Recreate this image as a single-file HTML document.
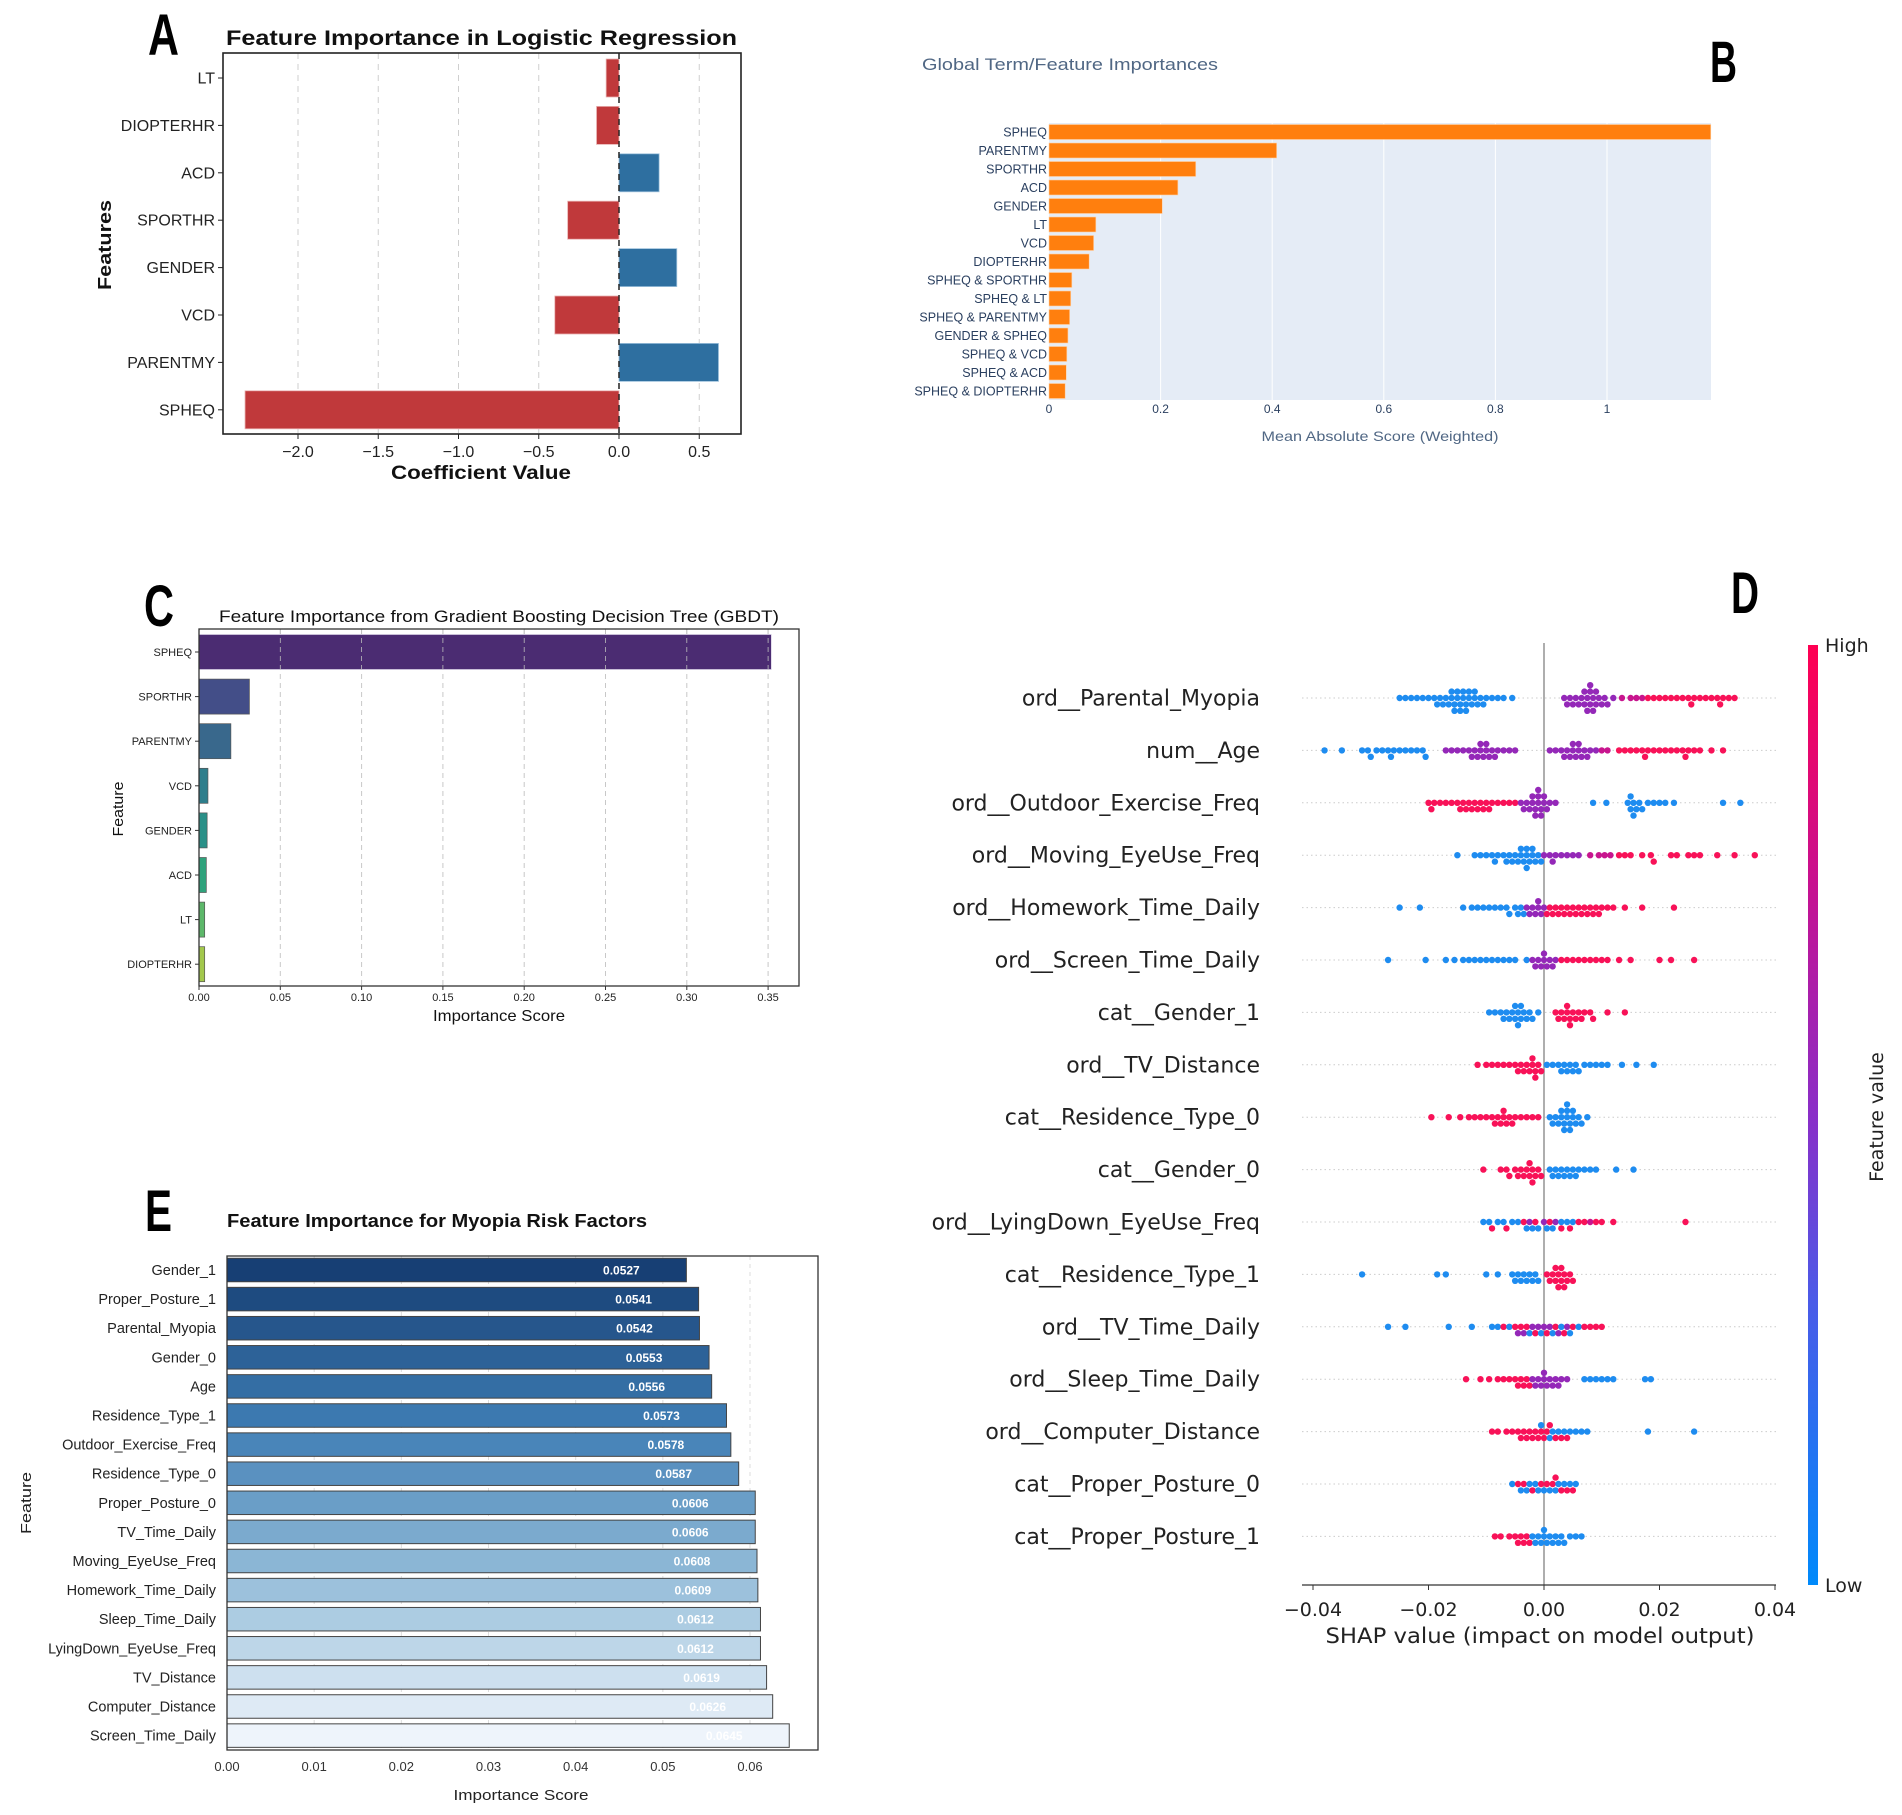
<!DOCTYPE html>
<html><head><meta charset="utf-8"><style>
html,body{margin:0;padding:0;background:#fff;}
svg{display:block;}
text{font-family:"Liberation Sans",sans-serif;}
.dv{font-family:"DejaVu Sans","Liberation Sans",sans-serif;}
</style></head>
<body>
<svg id="fig" width="1902" height="1815" viewBox="0 0 1902 1815" xmlns="http://www.w3.org/2000/svg">
<defs>
<linearGradient id="cbar" x1="0" y1="1" x2="0" y2="0">
<stop offset="0" stop-color="#008afb"/><stop offset="0.3" stop-color="#4a5be8"/><stop offset="0.5" stop-color="#8a2ec8"/><stop offset="0.75" stop-color="#c8108f"/><stop offset="1" stop-color="#ff0052"/>
</linearGradient>
</defs>
</svg>
<script>
// ---------- Panel A data ----------
const A_features = ['LT','DIOPTERHR','ACD','SPORTHR','GENDER','VCD','PARENTMY','SPHEQ'];
const A_values = [-0.08,-0.14,0.25,-0.32,0.36,-0.40,0.62,-2.33];
const A_ticks = [-2.0,-1.5,-1.0,-0.5,0.0,0.5];
const A_tickLabels = ['\u22122.0','\u22121.5','\u22121.0','\u22120.5','0.0','0.5'];
// ---------- Panel B data ----------
const B_features = ['SPHEQ','PARENTMY','SPORTHR','ACD','GENDER','LT','VCD','DIOPTERHR','SPHEQ & SPORTHR','SPHEQ & LT','SPHEQ & PARENTMY','GENDER & SPHEQ','SPHEQ & VCD','SPHEQ & ACD','SPHEQ & DIOPTERHR'];
const B_values = [1.186,0.408,0.263,0.231,0.203,0.084,0.080,0.072,0.041,0.039,0.037,0.034,0.032,0.031,0.029];
const B_ticks = [0,0.2,0.4,0.6,0.8,1];
const B_tickLabels = ['0','0.2','0.4','0.6','0.8','1'];
// ---------- Panel C data ----------
const C_features = ['SPHEQ','SPORTHR','PARENTMY','VCD','GENDER','ACD','LT','DIOPTERHR'];
const C_values = [0.352,0.031,0.0196,0.0055,0.005,0.0045,0.0035,0.0035];
const C_ticks = [0,0.05,0.10,0.15,0.20,0.25,0.30,0.35];
const C_tickLabels = ['0.00','0.05','0.10','0.15','0.20','0.25','0.30','0.35'];
// ---------- Panel D data ----------
const D_features = ['ord__Parental_Myopia','num__Age','ord__Outdoor_Exercise_Freq','ord__Moving_EyeUse_Freq','ord__Homework_Time_Daily','ord__Screen_Time_Daily','cat__Gender_1','ord__TV_Distance','cat__Residence_Type_0','cat__Gender_0','ord__LyingDown_EyeUse_Freq','cat__Residence_Type_1','ord__TV_Time_Daily','ord__Sleep_Time_Daily','ord__Computer_Distance','cat__Proper_Posture_0','cat__Proper_Posture_1'];
// SHAP values in thousandths; letter = feature value level (b low, p mid, m mid-high, r high)
const D_points = [
"b-25 b-24 b-23 b-22 b-21 b-20 b-19 b-18.5 b-18 b-17.5 b-17 b-16.5 b-16 b-16 b-15.5 b-15.5 b-15 b-15 b-14.5 b-14.5 b-14 b-14 b-13.5 b-13.5 b-13 b-13 b-12.5 b-12 b-12 b-11.5 b-11 b-10.5 b-10 b-9 b-8 b-7 b-5.5 p3.5 p4 p4.5 p5 p5.5 p6 p6.5 p7 p7 p7.5 p7.5 p8 p8 p8 p8.5 p8.5 p9 p9 p9.5 p10 p10.5 p11 p12 m13.5 m15 m16 m17 r18 r19 r20 r21 r22 r23 r24 r25 r25.5 r26 r27 r28 r29 r30 r30.5 r31 r32 r33",
"b-38 b-35 b-31.5 b-30.5 b-30 b-29 b-28 b-27 b-26.5 b-26 b-25 b-24 b-23 b-22 b-21 b-20.5 p-17 p-16 p-15 p-14 p-13 p-12.5 p-12 p-11.5 p-11 p-11 p-10.5 p-10 p-10 p-9.5 p-9 p-8.5 p-8 p-7 p-6 p-5 p1 p2 p3 p3.5 p4 p4.5 p5 p5 p5.5 p6 p6 p6.5 p7 p7.5 p8 p9 m10 m11 r13 r14 r15 r16 r17 r17.5 r18 r19 r20 r21 r22 r23 r24 r24.5 r25 r26 r27 r29 r31",
"r-20 r-19.5 r-19 r-18 r-17 r-16 r-15 r-14.5 r-14 r-13.5 r-13 r-12.5 r-12 r-11.5 r-11 r-10.5 r-10 r-9.5 r-9 r-8 r-7 r-6 r-5 p-4 p-3.5 p-3 p-2.5 p-2 p-2 p-1.5 p-1.5 p-1 p-1 p-1 p-0.5 p-0.5 p0 p0 p0.5 p1 p2 b8.5 b10.8 b14.5 b15 b15 b15.5 b15.5 b16 b16.5 b17 b18 b19 b20 b21 b22.5 b31 b34",
"b-15 b-12 b-11 b-10 b-9 b-8.5 b-8 b-7 b-6.5 b-6 b-5.5 b-5 b-4.5 b-4 b-4 b-3.5 b-3 b-3 b-3 b-2.5 b-2 b-2 b-1.5 b-1 b-0.5 p0 p1 p1.5 p2 p3 p4 p5 p6 m8 m9.5 m10.5 m11.5 r13 r14 r15 r17 r18.5 r19 r22 r23 r25 r26 r27 r30 r33 r36.5",
"b-25 b-21.5 b-14 b-12.5 b-11.5 b-10.5 b-9.5 b-8.5 b-7.5 b-6.5 b-6 b-5 b-4.5 b-4 b-3.5 p-3 p-2.5 p-2 p-1.5 p-1 p-1 p-0.5 p0 r0.5 r1 r1.5 r2 r2.5 r3 r3.5 r4 r4.5 r5 r5.5 r6 r6.5 r7 r7.5 r8 r8.5 r9 r9.5 r10 r11 r12 r14 r17 r22.5",
"b-27 b-20.5 b-17 b-15.5 b-14 b-13 b-12 b-11 b-10 b-9 b-8 b-7 b-6 b-5 b-3 p-2 p-1.5 p-1 p-0.5 p0 p0 p0.5 p1 p1.5 p2 r3 r4 r5 r6 r7 r8 r9 r10 r11 r13 r15 r20 r22 r26",
"b-9.5 b-8.5 b-7.5 b-7 b-6.5 b-6 b-5.5 b-5 b-5 b-4.5 b-4.5 b-4 b-4 b-3.5 b-3 b-2.5 b-2 b-1 r2 r2.5 r3 r3.5 r4 r4 r4.5 r4.5 r5 r5.5 r6 r6.5 r7 r8 r8.5 r11 r14",
"r-11.5 r-10 r-9 r-8 r-7 r-6 r-5 r-4.5 r-4 r-3.5 r-3 r-2.5 r-2 r-2 r-1.5 r-1.5 r-1 r-0.5 b0.5 b1.5 b2.5 b3 b3.5 b4 b4.5 b5 b5.5 b6 b7 b8 b9 b10 b11 b13.5 b16 b19",
"r-19.5 r-16.5 r-14.5 r-13 r-12 r-11 r-10 r-9 r-8.5 r-8 r-7.5 r-7 r-7 r-6.5 r-6 r-5.5 r-5 r-4 r-3 r-2 r-1 b1 b1.5 b2 b2.5 b3 b3 b3.5 b3.5 b4 b4 b4 b4.5 b4.5 b5 b5 b5.5 b6 b6.5 b7.5",
"r-10.5 r-7.5 r-6.5 r-6 r-5 r-4.5 r-4 r-3.5 r-3 r-2.5 r-2.5 r-2 r-2 r-1.5 r-1 r-0.5 b1 b1.5 b2 b2.5 b3 b3.5 b4 b4.5 b5 b5.5 b6 b7 b8 b9 b12.5 b15.5",
"b-10.5 b-9.5 r-9 b-8 b-7 r-6.5 b-5.5 b-4.5 r-3.5 b-3 p-2.5 b-2 r-1.5 b-1 p0 b0.5 r1 b1.5 p2 b3 r3 b4 r4.5 b5 r6 r7 m8 r9 r10 r12 r24.5",
"b-31.5 b-18.5 b-17 b-10 b-8 b-5.5 b-5 b-4.5 b-4 b-3.5 b-3 b-2.5 b-2 b-1.5 b-1 r0.5 r1 r1.5 r2 r2 r2.5 r2.5 r3 r3 r3.5 r3.5 r4 r4.5 r5",
"b-27 b-24 b-16.5 b-12.5 b-9 b-8 r-7 b-6 r-5 p-4.5 r-4 p-3.5 r-3 b-2.5 p-2 r-1.5 p-1 b-0.5 p0 r0.5 p1 b1.5 r2 p2.5 b3 r3.5 p4 b4.5 r5 b6 r7 r8 r9 r10",
"r-13.5 r-11 r-9.5 r-8 r-7 r-6 r-5 r-4.5 r-4 r-3.5 r-3 r-2.5 p-2 p-1.5 p-1 p-0.5 p0 p0 p0.5 p1 p1.5 p2 p2.5 p3 p4 b7 b8 b9 b10 b11 b12 b17.5 b18.5",
"r-9 r-8 r-6.5 r-5.5 r-4.5 r-4 r-3.5 r-3 r-2.5 r-2 r-1.5 r-1 r-0.5 b-0.5 r0 r0.5 b1 r1 b1.5 r2 b2.5 r3 b3.5 r4 b4.5 b5.5 b6.5 b7.5 b18 b26",
"b-5.5 r-4.5 b-4 r-3.5 b-3 b-2.5 r-2 b-1.5 b-1 r-0.5 b0 r0.5 b1 r1.5 b2 r2 b2.5 r3 b3.5 r4 b4.5 r5 b5.5",
"r-8.5 r-7.5 r-6 r-5 r-4.5 r-4 r-3.5 r-3 r-2.5 b-2 b-1.5 b-1 b-0.5 b0 b0 b0.5 b1 b1.5 b2 b2.5 b3 b3.5 b4.5 b5.5 b6.5"
];
const D_ticks = [-0.04,-0.02,0,0.02,0.04];
const D_tickLabels = ['\u22120.04','\u22120.02','0.00','0.02','0.04'];
// ---------- Panel E data ----------
const E_features = ['Gender_1','Proper_Posture_1','Parental_Myopia','Gender_0','Age','Residence_Type_1','Outdoor_Exercise_Freq','Residence_Type_0','Proper_Posture_0','TV_Time_Daily','Moving_EyeUse_Freq','Homework_Time_Daily','Sleep_Time_Daily','LyingDown_EyeUse_Freq','TV_Distance','Computer_Distance','Screen_Time_Daily'];
const E_values = [0.0527,0.0541,0.0542,0.0553,0.0556,0.0573,0.0578,0.0587,0.0606,0.0606,0.0608,0.0609,0.0612,0.0612,0.0619,0.0626,0.0645];
const E_ticks = [0,0.01,0.02,0.03,0.04,0.05,0.06];
const E_tickLabels = ['0.00','0.01','0.02','0.03','0.04','0.05','0.06'];

const NS='http://www.w3.org/2000/svg';
const svg=document.getElementById('fig');
function mk(tag,attrs,parent,txt){const e=document.createElementNS(NS,tag);for(const k in attrs)e.setAttribute(k,attrs[k]);if(txt!==undefined)e.textContent=txt;(parent||svg).appendChild(e);return e;}
function grp(parent){return mk('g',{},parent);}

// ================= Panel A =================
const gA=grp();


const AX0=223,AX1=741,AY0=53,AY1=434;
const ax=v=>619+v*160.5;
const ay=i=>78+i*47.4;
for(let i=0;i<A_ticks.length;i++){
  const x=ax(A_ticks[i]);
  const gl=mk('line',{x1:x,x2:x,y1:AY0,y2:AY1,stroke:A_ticks[i]===0?'#222':'#cfcfcf','stroke-dasharray':'6,5','stroke-width':A_ticks[i]===0?1.3:1},gA);
  
  
  mk('line',{x1:x,x2:x,y1:AY1,y2:AY1+5,stroke:'#222'},gA);
  const t=mk('text',{x:x,y:457,'text-anchor':'middle','font-size':16,fill:'#222'},gA,A_tickLabels[i]);
  
  
}
for(let i=0;i<A_features.length;i++){
  const v=A_values[i],y=ay(i);
  const x0=Math.min(ax(0),ax(v)),w=Math.abs(ax(v)-ax(0));
  const b=mk('rect',{x:x0,y:y-19,width:w,height:38,fill:v<0?'#c0393b':'#2e6fa0',stroke:v<0?'#e8b0b0':'#9fc2dc','stroke-width':0.8},gA);
  
  
  mk('line',{x1:AX0-5,x2:AX0,y1:y,y2:y,stroke:'#222'},gA);
  const t=mk('text',{x:AX0-8,y:y+5.5,'text-anchor':'end','font-size':16,fill:'#222'},gA,A_features[i]);
  
  
}
mk('line',{x1:ax(0),x2:ax(0),y1:AY0,y2:AY1,stroke:'#222','stroke-dasharray':'6,5','stroke-width':1.3},gA);
const aBox=mk('rect',{x:AX0,y:AY0,width:AX1-AX0,height:AY1-AY0,fill:'none',stroke:'#222','stroke-width':1.6},gA);


const aT=mk('text',{x:226,y:45,'font-size':21,'font-weight':'bold',textLength:511,lengthAdjust:'spacingAndGlyphs',fill:'#111'},gA,'Feature Importance in Logistic Regression');


const aXL=mk('text',{x:481,y:479,'font-size':19,'font-weight':'bold','text-anchor':'middle',textLength:180,lengthAdjust:'spacingAndGlyphs',fill:'#111'},gA,'Coefficient Value');


const aYL=mk('text',{x:0,y:0,'font-size':18,'font-weight':'bold','text-anchor':'middle',textLength:90,lengthAdjust:'spacingAndGlyphs',fill:'#111',transform:'translate(111,245) rotate(-90)'},gA,'Features');


const aL=mk('text',{x:148,y:55,'font-size':58,'font-weight':'bold',textLength:31,lengthAdjust:'spacingAndGlyphs',fill:'#000'},gA,'A');



// ================= Panel B =================
const gB=grp();


const BX0=1049,BX1=1711,BY0=123,BY1=400;
const bx=v=>BX0+v*558;
const by=i=>132+i*18.5;
const bBg=mk('rect',{x:BX0,y:BY0,width:BX1-BX0,height:BY1-BY0,fill:'#e5ecf6'},gB);


for(let i=0;i<B_ticks.length;i++){
  const x=bx(B_ticks[i]);
  if(B_ticks[i]>0) mk('line',{x1:x,x2:x,y1:BY0,y2:BY1,stroke:'#fff','stroke-width':1},gB);
  const t=mk('text',{x:x,y:413,'text-anchor':'middle','font-size':12,fill:'#2a3f5f'},gB,B_tickLabels[i]);
  
  
}
for(let i=0;i<B_features.length;i++){
  const y=by(i);
  const b=mk('rect',{x:BX0,y:y-7.5,width:bx(B_values[i])-BX0,height:15,fill:'#ff7f0e',stroke:'#ffd2a8','stroke-width':0.6},gB);
  
  
  const t=mk('text',{x:BX0-2,y:y+4.5,'text-anchor':'end','font-size':12.5,fill:'#2a3f5f'},gB,B_features[i]);
  
  
}
const bT=mk('text',{x:922,y:70,'font-size':16.5,fill:'#506784',textLength:296,lengthAdjust:'spacingAndGlyphs'},gB,'Global Term/Feature Importances');


const bXL=mk('text',{x:1380,y:441,'font-size':14,'text-anchor':'middle',fill:'#506784',textLength:237,lengthAdjust:'spacingAndGlyphs'},gB,'Mean Absolute Score (Weighted)');


const bL=mk('text',{x:1710,y:82,'font-size':58,'font-weight':'bold',textLength:27,lengthAdjust:'spacingAndGlyphs',fill:'#000'},gB,'B');



// ================= Panel C =================
const gC=grp();


const CX0=199,CX1=799,CY0=629,CY1=986;
const cx=v=>CX0+v*1626;
const cy=i=>652+i*44.6;
const C_colors=['#4b2c72','#434e88','#39688c','#2e7e8c','#2a9088','#2fa27c','#5db86a','#a3c84c'];
for(let i=0;i<C_ticks.length;i++){
  const x=cx(C_ticks[i]);
  if(i>0) mk('line',{x1:x,x2:x,y1:CY0,y2:CY1,stroke:'#c8c8c8','stroke-dasharray':'5,4'},gC);
  mk('line',{x1:x,x2:x,y1:CY1,y2:CY1+4,stroke:'#333'},gC);
  const t=mk('text',{x:x,y:1001,'text-anchor':'middle','font-size':11,fill:'#222'},gC,C_tickLabels[i]);
  
  
}
for(let i=0;i<C_features.length;i++){
  const y=cy(i);
  const b=mk('rect',{x:CX0,y:y-17.5,width:cx(C_values[i])-CX0,height:35,fill:C_colors[i],stroke:i===0?'#d8d0e4':'#555','stroke-width':0.7},gC);
  
  
  mk('line',{x1:CX0-4,x2:CX0,y1:y,y2:y,stroke:'#333'},gC);
  const t=mk('text',{x:CX0-7,y:y+4,'text-anchor':'end','font-size':11,fill:'#222'},gC,C_features[i]);
  
  
}
for(let i=0;i<C_ticks.length;i++){const x=cx(C_ticks[i]); if(i>0) mk('line',{x1:x,x2:x,y1:CY0,y2:cy(0)+17.5,stroke:'#bbb','stroke-dasharray':'5,4','stroke-width':0.8},gC);}
const cBox=mk('rect',{x:CX0,y:CY0,width:CX1-CX0,height:CY1-CY0,fill:'none',stroke:'#333','stroke-width':1.3},gC);


const cT=mk('text',{x:219,y:622,'font-size':17,fill:'#111',textLength:560,lengthAdjust:'spacingAndGlyphs'},gC,'Feature Importance from Gradient Boosting Decision Tree (GBDT)');


const cXL=mk('text',{x:499,y:1021,'font-size':16,'text-anchor':'middle',fill:'#111',textLength:132,lengthAdjust:'spacingAndGlyphs'},gC,'Importance Score');


const cYL=mk('text',{x:0,y:0,'font-size':15,'text-anchor':'middle',fill:'#111',textLength:55,lengthAdjust:'spacingAndGlyphs',transform:'translate(123,809) rotate(-90)'},gC,'Feature');


const cL=mk('text',{x:144,y:626,'font-size':58,'font-weight':'bold',textLength:30,lengthAdjust:'spacingAndGlyphs',fill:'#000'},gC,'C');



// ================= Panel D =================
const gD=grp();


const dx=v=>1544+v*5775;
const dy=i=>698+i*52.4;
const DCOL={b:'#1e8cf0',p:'#9428b8',m:'#c8158e',r:'#f81258'};
for(let i=0;i<D_features.length;i++){
  const y=dy(i);
  mk('line',{x1:1302,x2:1776,y1:y,y2:y,stroke:'#ccc','stroke-dasharray':'1.5,3','stroke-width':1},gD);
  const t=mk('text',{x:1260,y:y+7.5,'text-anchor':'end','font-size':22,fill:'#222',class:'dv'},gD,D_features[i]);
  
  
}
mk('line',{x1:dx(0),x2:dx(0),y1:643,y2:1585,stroke:'#999','stroke-width':1.6},gD);
for(let i=0;i<D_features.length;i++){
  const y0=dy(i);
  const pts=D_points[i].split(' ').map(s=>({c:s[0],v:parseFloat(s.slice(1))/1000}));
  const placed=[];const r=3.2,d=6.0;
  pts.sort((a,b)=>a.v-b.v);
  for(const p of pts){
    const x=dx(p.v);let off=0;
    for(let k=0;k<20;k++){
      const o=(k%2?1:-1)*Math.ceil(k/2)*3.2;
      if(placed.every(q=>Math.hypot(q.x-x,q.y-o)>=d*0.8)){off=o;break;}
    }
    placed.push({x:x,y:off});
    const c=mk('circle',{cx:x,cy:y0+off,r:r,fill:DCOL[p.c]},gD);
    
    
  }
}
mk('line',{x1:1302,x2:1776,y1:1585,y2:1585,stroke:'#333','stroke-width':1.2},gD);
for(let i=0;i<D_ticks.length;i++){
  const x=dx(D_ticks[i]);
  mk('line',{x1:x,x2:x,y1:1585,y2:1590,stroke:'#333'},gD);
  const t=mk('text',{x:x,y:1616,'text-anchor':'middle','font-size':19,fill:'#222',class:'dv'},gD,D_tickLabels[i]);
  
  
}
const dXL=mk('text',{x:1540,y:1643,'font-size':21,'text-anchor':'middle',fill:'#222',class:'dv',textLength:429,lengthAdjust:'spacingAndGlyphs'},gD,'SHAP value (impact on model output)');


const cb=mk('rect',{x:1808,y:645,width:10,height:940,fill:'url(#cbar)'},gD);


const hi=mk('text',{x:1825,y:652,'font-size':19,fill:'#222',class:'dv'},gD,'High');


const lo=mk('text',{x:1825,y:1592,'font-size':19,fill:'#222',class:'dv'},gD,'Low');


const fv=mk('text',{x:0,y:0,'font-size':19,'text-anchor':'middle',fill:'#222',class:'dv',transform:'translate(1883,1117) rotate(-90)'},gD,'Feature value');


const dL=mk('text',{x:1731,y:613,'font-size':58,'font-weight':'bold',textLength:28,lengthAdjust:'spacingAndGlyphs',fill:'#000'},gD,'D');



// ================= Panel E =================
const gE=grp();


const EX0=227,EX1=818,EY0=1256,EY1=1750;
const ex=v=>EX0+v*8717;
const ey=i=>1270+i*29.1;
function lerp(a,b,t){return a.map((v,i)=>Math.round(v+(b[i]-v)*t));}
function eColor(t){const s=[[23,63,116],[62,125,180],[150,190,218],[238,244,251]];const u=t*3;const k=Math.min(2,Math.floor(u));const c=lerp(s[k],s[k+1],u-k);return 'rgb('+c.join(',')+')';}
for(let i=0;i<E_ticks.length;i++){
  const x=ex(E_ticks[i]);
  if(i>0) mk('line',{x1:x,x2:x,y1:EY0,y2:EY1,stroke:'#ddd','stroke-dasharray':'4,4'},gE);
  const t=mk('text',{x:x,y:1771,'text-anchor':'middle','font-size':13,fill:'#333'},gE,E_tickLabels[i]);
  
  
}
for(let i=0;i<E_features.length;i++){
  const y=ey(i),n=E_features.length;
  const b=mk('rect',{x:EX0,y:y-11.75,width:ex(E_values[i])-EX0,height:23.5,fill:eColor(i/(n-1)),stroke:'#444','stroke-width':1},gE);
  
  
  const vl=mk('text',{x:ex(E_values[i])-65,y:y+4.5,'text-anchor':'middle','font-size':12,'font-weight':'bold',fill:'#fff'},gE,E_values[i].toFixed(4));
  
  
  const t=mk('text',{x:216,y:y+5,'text-anchor':'end','font-size':14.5,fill:'#222'},gE,E_features[i]);
  
  
}
const eBox=mk('rect',{x:EX0,y:EY0,width:EX1-EX0,height:EY1-EY0,fill:'none',stroke:'#333','stroke-width':1.3},gE);


const eT=mk('text',{x:227,y:1227,'font-size':18,'font-weight':'bold',fill:'#111',textLength:420,lengthAdjust:'spacingAndGlyphs'},gE,'Feature Importance for Myopia Risk Factors');


const eXL=mk('text',{x:521,y:1800,'font-size':15,'text-anchor':'middle',fill:'#222',textLength:135,lengthAdjust:'spacingAndGlyphs'},gE,'Importance Score');


const eYL=mk('text',{x:0,y:0,'font-size':15,'text-anchor':'middle',fill:'#222',textLength:62,lengthAdjust:'spacingAndGlyphs',transform:'translate(31,1503) rotate(-90)'},gE,'Feature');


const eL=mk('text',{x:145,y:1231,'font-size':58,'font-weight':'bold',textLength:27,lengthAdjust:'spacingAndGlyphs',fill:'#000'},gE,'E');


</script>
</body></html>
